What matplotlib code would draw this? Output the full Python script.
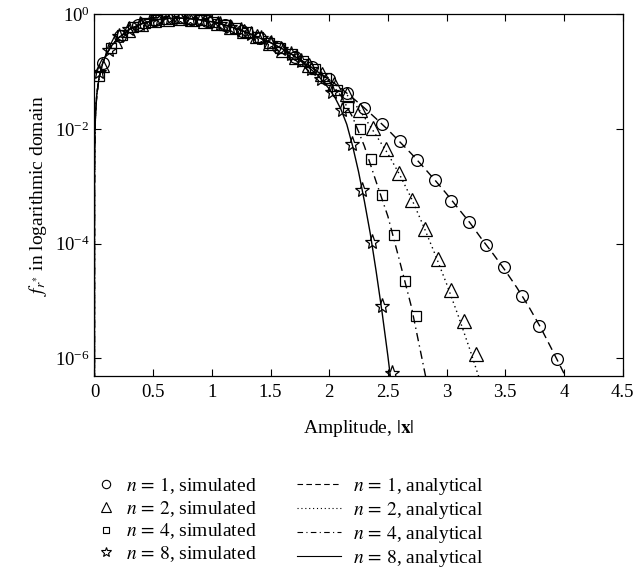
import matplotlib
matplotlib.use("Agg")
import matplotlib.pyplot as plt
from matplotlib.lines import Line2D

plt.rcParams['font.family'] = ['Liberation Serif', 'DejaVu Serif']
plt.rcParams['mathtext.fontset'] = 'stix'
plt.rcParams['font.size'] = 14

# shared analytical part (all n coincide here)
x_common = [0.0000002, 0.0005, 0.002, 0.005, 0.01, 0.02, 0.04, 0.07, 0.1, 0.15, 0.2, 0.3,
            0.4, 0.5, 0.6, 0.7, 0.8, 0.9, 1.0, 1.1, 1.2, 1.3, 1.4, 1.5, 1.6, 1.7]
y_common = [4e-7, 0.001, 0.004, 0.01, 0.02, 0.04, 0.08, 0.14, 0.2, 0.29, 0.38, 0.55,
            0.68, 0.78, 0.84, 0.86, 0.84, 0.80, 0.74, 0.66, 0.57, 0.48, 0.39, 0.32, 0.25, 0.19]

# analytical tails
x_ana1 = [1.8, 1.9, 2.0, 2.1, 2.2, 2.3, 2.4, 2.5, 2.6, 2.7, 2.8, 2.9, 3.0, 3.1, 3.2,
          3.3, 3.4, 3.5, 3.6, 3.7, 3.8, 3.9, 4.0, 4.1]
y_ana1 = [0.14, 0.10, 0.073, 0.051, 0.0348, 0.0232, 0.0151, 0.0097, 0.0060, 0.0037,
          0.0022, 0.00129, 7.4e-4, 4.1e-4, 2.3e-4, 1.2e-4, 6.5e-5, 3.4e-5, 1.7e-5,
          8.0e-6, 3.5e-6, 1.4e-6, 5.5e-7, 2e-7]
x_ana2 = [1.8, 1.9, 2.0, 2.1, 2.2, 2.3, 2.4, 2.5, 2.6, 2.7, 2.8, 2.9, 3.0, 3.1, 3.2, 3.3]
y_ana2 = [0.14, 0.10, 0.073, 0.050, 0.031, 0.016, 0.0077, 0.0037, 0.0016, 6.2e-4,
          2.1e-4, 6.7e-5, 2.0e-5, 5.5e-6, 1.4e-6, 3.3e-7]
x_ana4 = [1.8, 1.9, 2.0, 2.1, 2.2, 2.3, 2.4, 2.5, 2.6, 2.7, 2.8, 2.85]
y_ana4 = [0.14, 0.10, 0.068, 0.038, 0.016, 5.0e-3, 1.2e-3, 3.0e-4, 5.0e-5, 8e-6, 8e-7, 2.5e-7]
x_ana8 = [1.8, 1.9, 2.0, 2.05, 2.1, 2.15, 2.2, 2.25, 2.3, 2.35, 2.4, 2.45, 2.5, 2.55]
y_ana8 = [0.13, 0.088, 0.050, 0.035, 0.022, 0.012, 5.0e-3, 1.8e-3, 5.5e-4, 1.5e-4,
          3.3e-5, 6.5e-6, 1.1e-6, 1.6e-7]

# simulated points
x_sim1 = [0.07, 0.22, 0.37, 0.52, 0.67, 0.82, 0.96, 1.11, 1.26, 1.41, 1.56, 1.71, 1.85,
          2.00, 2.15, 2.30, 2.45, 2.60, 2.75, 2.90, 3.04, 3.19, 3.34, 3.49, 3.64, 3.79, 3.94]
y_sim1 = [0.14, 0.41, 0.64, 0.79, 0.85, 0.84, 0.76, 0.65, 0.52, 0.39, 0.27, 0.18, 0.12,
          0.073, 0.042, 0.023, 0.0121, 0.0062, 0.0029, 0.0013, 5.6e-4, 2.35e-4, 9.6e-5,
          3.9e-5, 1.2e-5, 3.6e-6, 9.6e-7]
x_sim2 = [0.065, 0.175, 0.285, 0.395, 0.505, 0.615, 0.725, 0.835, 0.945, 1.055, 1.165,
          1.275, 1.385, 1.495, 1.605, 1.715, 1.825, 1.935, 2.045, 2.155, 2.265, 2.375,
          2.485, 2.595, 2.705, 2.815, 2.925, 3.035, 3.145, 3.255]
y_sim2 = [0.13, 0.34, 0.53, 0.67, 0.78, 0.84, 0.86, 0.83, 0.77, 0.70, 0.60, 0.50, 0.41,
          0.32, 0.24, 0.18, 0.13, 0.090, 0.061, 0.041, 0.021, 0.0102, 0.0044, 0.0017,
          5.8e-4, 1.8e-4, 5.3e-5, 1.56e-5, 4.5e-6, 1.2e-6]
x_sim4 = [0.041, 0.138, 0.234, 0.331, 0.427, 0.524, 0.620, 0.717, 0.813, 0.910, 1.006,
          1.103, 1.199, 1.296, 1.392, 1.489, 1.585, 1.682, 1.778, 1.875, 1.971, 2.068,
          2.164, 2.261, 2.357, 2.454, 2.550, 2.647, 2.743]
y_sim4 = [0.085, 0.26, 0.44, 0.59, 0.71, 0.79, 0.84, 0.86, 0.84, 0.79, 0.73, 0.66, 0.57,
          0.49, 0.40, 0.32, 0.26, 0.20, 0.15, 0.11, 0.077, 0.048, 0.024, 0.0098, 0.0030,
          7.0e-4, 1.4e-4, 2.25e-5, 5.5e-6]
x_sim8 = [0.040, 0.126, 0.212, 0.298, 0.384, 0.471, 0.557, 0.643, 0.729, 0.815, 0.901,
          0.987, 1.073, 1.159, 1.245, 1.332, 1.418, 1.504, 1.590, 1.676, 1.762, 1.848,
          1.934, 2.020, 2.106, 2.192, 2.278, 2.364, 2.450, 2.536]
y_sim8 = [0.10, 0.24, 0.41, 0.55, 0.67, 0.76, 0.82, 0.86, 0.87, 0.84, 0.80, 0.75, 0.68,
          0.61, 0.53, 0.45, 0.38, 0.31, 0.25, 0.20, 0.15, 0.11, 0.075, 0.044, 0.021,
          5.4e-3, 8.7e-4, 1.05e-4, 8.3e-6, 5.5e-7]

fig = plt.figure(figsize=(6.34, 5.69), dpi=100)
ax = fig.add_axes([0.149, 0.339, 0.833, 0.636])

lw = 1.0
ax.plot(x_common + x_ana1, y_common + y_ana1, color='k', lw=lw, dashes=(6, 3.5))
ax.plot(x_common + x_ana2, y_common + y_ana2, color='k', lw=lw, dashes=(1, 2.5))
ax.plot(x_common + x_ana4, y_common + y_ana4, color='k', lw=lw, dashes=(6, 3, 1, 3))
ax.plot(x_common + x_ana8, y_common + y_ana8, color='k', lw=lw)

mk = dict(linestyle='none', mfc='none', mec='k', mew=0.9)
ax.plot(x_sim1, y_sim1, marker='o', ms=8.5, **mk)
ax.plot(x_sim2, y_sim2, marker='^', ms=9.5, **mk)
ax.plot(x_sim4, y_sim4, marker='s', ms=7, **mk)
ax.plot(x_sim8, y_sim8, marker='*', ms=11, **mk)

ax.set_yscale('log')
ax.set_xlim(0, 4.5)
ax.set_ylim(4.9e-7, 1)
ax.set_xticks([0, 0.5, 1, 1.5, 2, 2.5, 3, 3.5, 4, 4.5])
ax.set_xticklabels(['0', '0.5', '1', '1.5', '2', '2.5', '3', '3.5', '4', '4.5'])
ax.set_yticks([1e-6, 1e-4, 1e-2, 1])
ax.minorticks_off()
ax.tick_params(direction='in', top=True, right=True, length=5, width=0.8, labelsize=13.5)
ax.tick_params(axis='x', pad=6)
for s in ax.spines.values():
    s.set_linewidth(0.9)

ax.set_xlabel(r'Amplitude, $|\mathbf{x}|$', fontsize=14, labelpad=12)
ax.set_ylabel(r'$f_{r^{*}}$ in logarithmic domain', fontsize=14, labelpad=4)

# legends
hs = [Line2D([], [], linestyle='none', marker='o', ms=6, mfc='none', mec='k', mew=0.8),
      Line2D([], [], linestyle='none', marker='^', ms=6.5, mfc='none', mec='k', mew=0.8),
      Line2D([], [], linestyle='none', marker='s', ms=5, mfc='none', mec='k', mew=0.8),
      Line2D([], [], linestyle='none', marker='*', ms=7.5, mfc='none', mec='k', mew=0.8)]
ls = [r'$n\,=\,1$, simulated', r'$n\,=\,2$, simulated',
      r'$n\,=\,4$, simulated', r'$n\,=\,8$, simulated']
ha = [Line2D([], [], color='k', lw=0.8, dashes=(5, 3)),
      Line2D([], [], color='k', lw=0.8, dashes=(1, 2.5)),
      Line2D([], [], color='k', lw=0.8, dashes=(5, 3, 1, 3)),
      Line2D([], [], color='k', lw=0.8)]
la = [r'$n\,=\,1$, analytical', r'$n\,=\,2$, analytical',
      r'$n\,=\,4$, analytical', r'$n\,=\,8$, analytical']

fig.legend(hs, ls, loc='upper left', bbox_to_anchor=(0.152, 0.165), frameon=False,
           handlelength=1.0, handletextpad=0.5, labelspacing=0.15, borderpad=0,
           borderaxespad=0, fontsize=14)
fig.legend(ha, la, loc='upper left', bbox_to_anchor=(0.468, 0.165), frameon=False,
           handlelength=2.3, handletextpad=0.6, labelspacing=0.15, borderpad=0,
           borderaxespad=0, fontsize=14)

fig.savefig('out.png', dpi=100)
